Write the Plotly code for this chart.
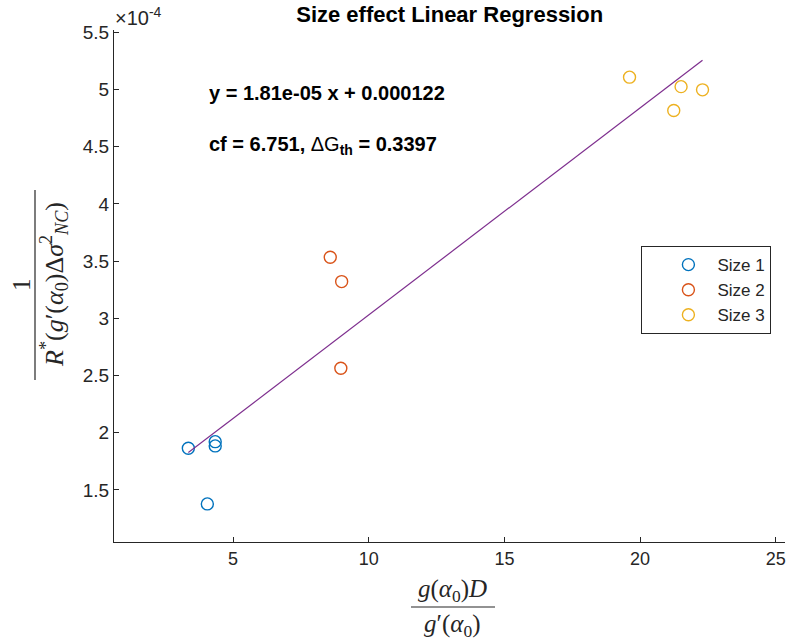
import plotly.graph_objects as go

# ---- data ----
size1_x = [3.35, 4.34, 4.34, 4.05]
size1_y = [1.864e-4, 1.922e-4, 1.885e-4, 1.378e-4]
size2_x = [8.58, 9.00, 8.97]
size2_y = [3.534e-4, 3.321e-4, 2.564e-4]
size3_x = [19.61, 21.51, 22.30, 21.24]
size3_y = [5.108e-4, 5.025e-4, 4.997e-4, 4.816e-4]
series_names = ["Size 1", "Size 2", "Size 3"]
slope = 1.81e-05
intercept = 0.000122
y_ticks = [1.5e-4, 2e-4, 2.5e-4, 3e-4, 3.5e-4, 4e-4, 4.5e-4, 5e-4, 5.5e-4]
y_ticklabels = ["1.5", "2", "2.5", "3", "3.5", "4", "4.5", "5", "5.5"]
x_ticks = [5, 10, 15, 20, 25]

colors = ["#0072BD", "#D95319", "#EDB120"]
line_color = "#7E2F8E"
axis_color = "#262626"

all_x = size1_x + size2_x + size3_x
fit_x = [min(all_x), max(all_x)]
fit_y = [slope * v + intercept for v in fit_x]

fig = go.Figure()
for xs, ys, name, c in zip([size1_x, size2_x, size3_x], [size1_y, size2_y, size3_y], series_names, colors):
    fig.add_trace(go.Scatter(x=xs, y=ys, mode="markers", name=name,
                             marker=dict(symbol="circle-open", size=12, color=c, line=dict(width=1.4, color=c))))
fig.add_trace(go.Scatter(x=fit_x, y=fit_y, mode="lines", showlegend=False,
                         line=dict(color=line_color, width=1.2)))

fig.update_layout(
    width=786, height=642,
    margin=dict(l=114, r=1, t=30, b=100),
    paper_bgcolor="white", plot_bgcolor="white",
    font=dict(family="Liberation Sans, Arial", size=18, color=axis_color),
    title=dict(text="<b>Size effect Linear Regression</b>", x=0.5721, xanchor="center",
               y=1 - 14 / 642, yanchor="middle", font=dict(size=22, color="black")),
    showlegend=True,
    legend=dict(x=0.786, y=0.578, xanchor="left", yanchor="top",
                bordercolor=axis_color, borderwidth=1, bgcolor="white",
                font=dict(size=17, color=axis_color), itemwidth=48, indentation=17,
                tracegroupgap=0),
    xaxis=dict(range=[0.61, 25.34], tickvals=x_ticks, showgrid=False, zeroline=False,
               showline=True, linecolor=axis_color, linewidth=1, ticks="inside", ticklen=5,
               tickcolor=axis_color, tickfont=dict(size=18, color=axis_color)),
    yaxis=dict(range=[1.045e-4, 5.52e-4], tickvals=y_ticks, ticktext=y_ticklabels,
               showgrid=False, zeroline=False, showline=True, linecolor=axis_color, linewidth=1,
               ticks="inside", ticklen=5, tickcolor=axis_color, tickfont=dict(size=19, color=axis_color)),
)

serif = "Liberation Serif, DejaVu Serif, serif"
annots = [
    dict(text="×10<sup>-4</sup>", x=0.0, y=1.0, xref="paper", yref="paper", xanchor="left", yanchor="bottom",
         showarrow=False, font=dict(size=20, color=axis_color), xshift=-1, yshift=-1),
    dict(text="<b>y = 1.81e-05 x + 0.000122</b>", x=(207 - 114) / 671, y=(542 - 93) / 512,
         xref="paper", yref="paper", xanchor="left", yanchor="middle", showarrow=False,
         font=dict(size=20, color="black")),
    dict(text="<b>cf = 6.751, </b>ΔG<b><sub>th</sub> = 0.3397</b>", x=(207 - 114) / 671, y=(542 - 145) / 512,
         xref="paper", yref="paper", xanchor="left", yanchor="middle", showarrow=False,
         font=dict(size=20, color="black")),
    # x label fraction
    dict(text="<i>g</i>(<i>α</i><sub>0</sub>)<i>D</i>", x=(453 - 114) / 671, y=(542 - 590) / 512,
         xref="paper", yref="paper", xanchor="center", yanchor="middle", showarrow=False,
         font=dict(size=25, family=serif, color=axis_color)),
    dict(text="<i>g</i>′(<i>α</i><sub>0</sub>)", x=(453 - 114) / 671, y=(542 - 625) / 512,
         xref="paper", yref="paper", xanchor="center", yanchor="middle", showarrow=False,
         font=dict(size=25, family=serif, color=axis_color)),
    # y label fraction
    dict(text="1", x=(21 - 114) / 671, y=(542 - 285) / 512, textangle=-90,
         xref="paper", yref="paper", xanchor="center", yanchor="middle", showarrow=False,
         font=dict(size=25, family=serif, color=axis_color)),
    dict(text="<i>R</i><sup>*</sup>(<i>g</i>′(<i>α</i><sub>0</sub>)Δ<i>σ</i><sup>2</sup><sub><i>NC</i></sub>)",
         x=(54 - 114) / 671, y=(542 - 285) / 512, textangle=-90,
         xref="paper", yref="paper", xanchor="center", yanchor="middle", showarrow=False,
         font=dict(size=26, family=serif, color=axis_color)),
]
for a in annots:
    fig.add_annotation(**a)

fig.add_shape(type="line", xref="paper", yref="paper",
              x0=(411 - 114) / 671, x1=(495 - 114) / 671, y0=(542 - 607) / 512, y1=(542 - 607) / 512,
              line=dict(color=axis_color, width=1.2))
fig.add_shape(type="line", xref="paper", yref="paper",
              x0=(35 - 114) / 671, x1=(35 - 114) / 671, y0=(542 - 190) / 512, y1=(542 - 380) / 512,
              line=dict(color=axis_color, width=1.2))

fig.write_html("out.html")
